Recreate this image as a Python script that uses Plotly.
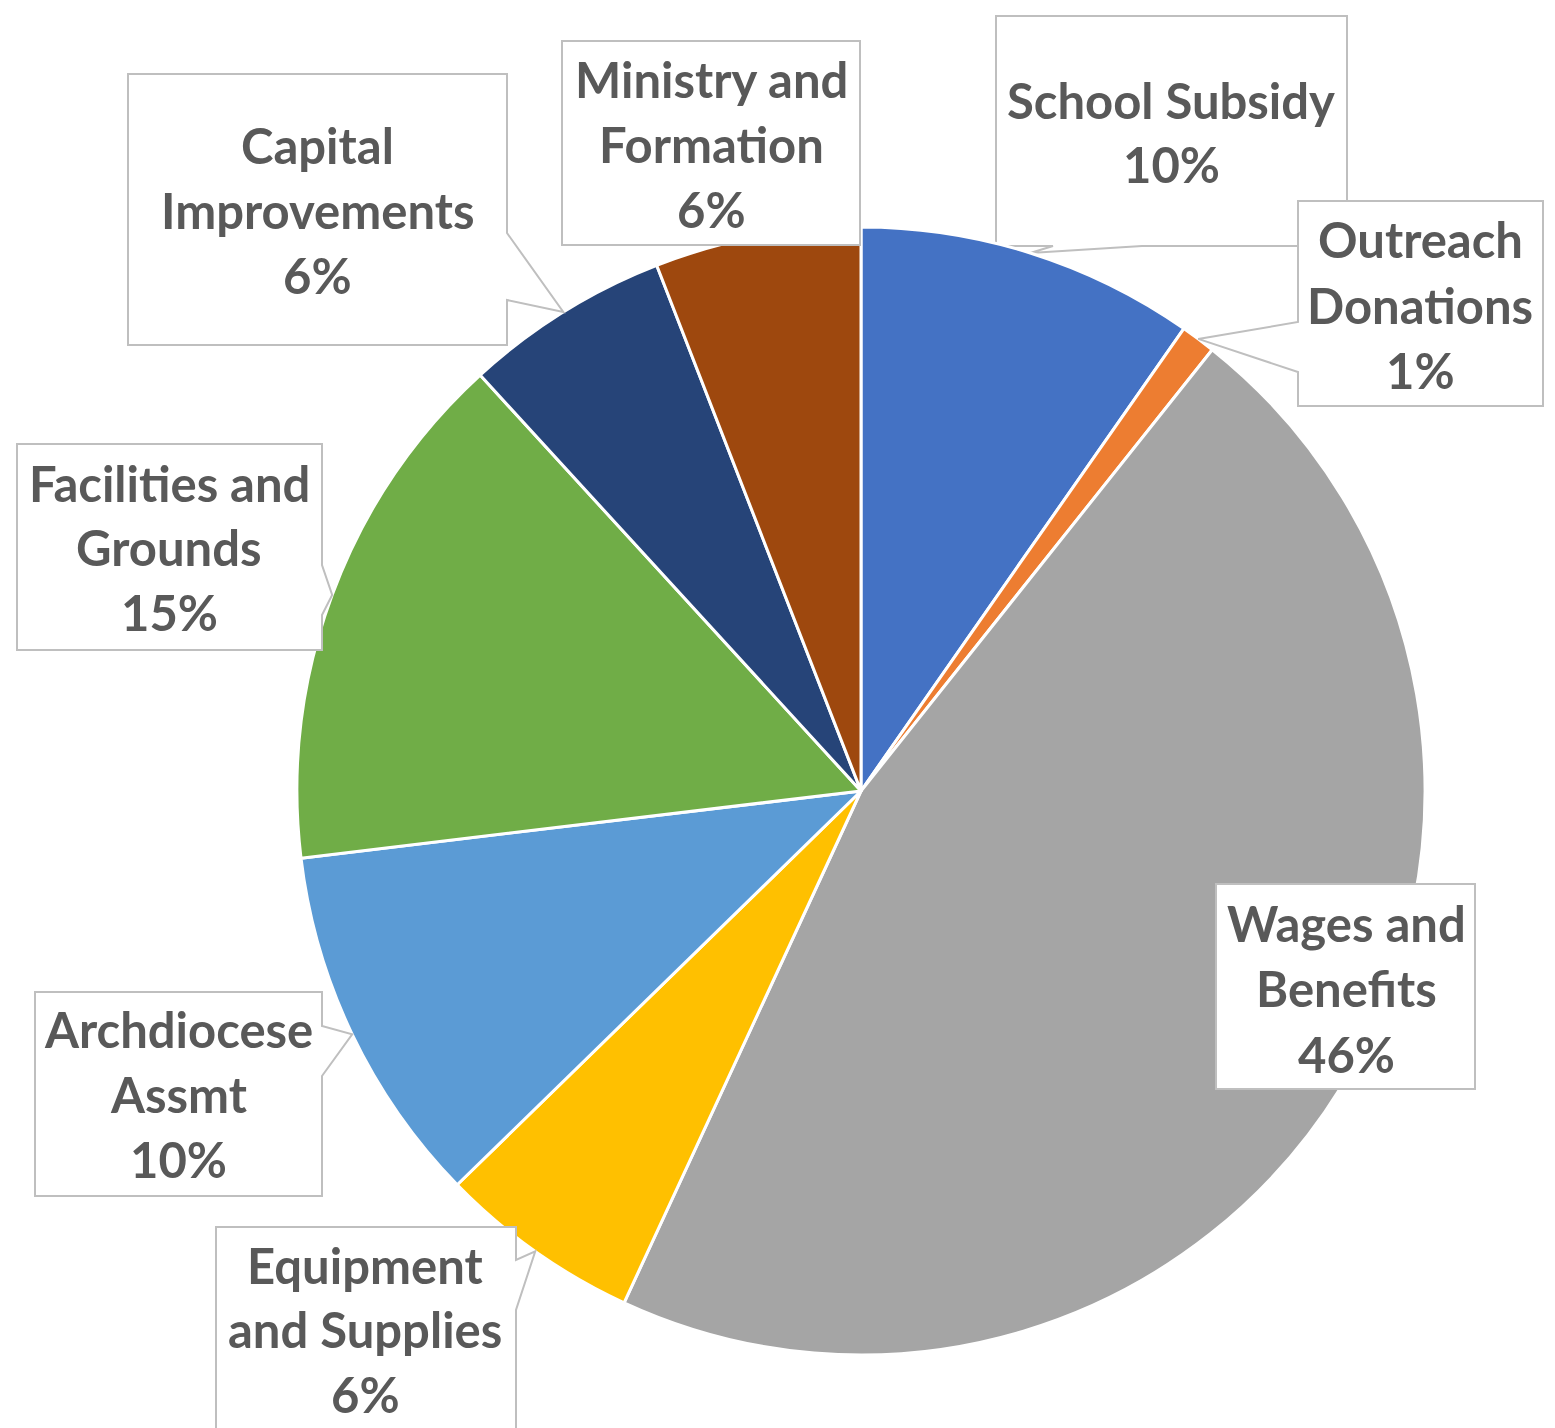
import math
import plotly.graph_objects as go

# browser body margin offset
OFF = 8
W, H = 1555 - OFF, 1428 - OFF

# ---- data ----
categories = [
    "School Subsidy",
    "Outreach\nDonations",
    "Wages and\nBenefits",
    "Equipment\nand Supplies",
    "Archdiocese\nAssmt",
    "Facilities and\nGrounds",
    "Capital\nImprovements",
    "Ministry and\nFormation",
]
values = [9.7, 1.0, 46.2, 5.8, 10.4, 15.1, 5.9, 5.9]
colors = ["#4472C4", "#ED7D31", "#A5A5A5", "#FFC000",
          "#5B9BD5", "#70AD47", "#264478", "#9E480E"]

# ---- layout constants (target pixels) ----
CX, CY, R = 861, 791, 564
# label boxes: (x0, y0, x1, y1), text centre x, line centre ys, wedge (side, b0, b1) or None, shape layer
boxes = [
    ((996, 16, 1347, 246), 1171, [100, 164], ("bottom", 1053, 1142), "below"),
    ((1298, 201, 1543, 406), 1420, [239, 305, 370], ("left", 322, 372), "above"),
    ((1216, 884, 1475, 1089), 1346, [923, 988, 1054], None, "above"),
    ((216, 1227, 516, 1445), 365, [1265, 1329, 1394], ("right", 1260, 1310), "above"),
    ((35, 992, 322, 1196), 178, [1029, 1094, 1159], ("right", 1026, 1076), "above"),
    ((17, 444, 322, 650), 169, [483, 547, 612], ("right", 565, 615), "above"),
    ((128, 74, 507, 345), 317, [145, 210, 275], ("right", 233, 300), "above"),
    ((562, 41, 860, 245), 711, [79, 144, 209], None, "above"),
]


def px(x):
    return (x - OFF) / W


def py(y):
    return 1 - (y - OFF) / H


fig = go.Figure(go.Pie(
    labels=[c.replace("\n", " ") for c in categories],
    values=values,
    sort=False,
    direction="clockwise",
    rotation=0,
    marker=dict(colors=colors, line=dict(color="white", width=3)),
    textinfo="none",
    hoverinfo="skip",
    showlegend=False,
    domain=dict(x=[px(CX - R), px(CX + R)], y=[py(CY + R), py(CY - R)]),
))

total = sum(values)
cum = 0.0
shapes = []
annotations = []
for cat, v, (box, tx, lys, wedge, layer) in zip(categories, values, boxes):
    mid = (cum + v / 2) / total * 2 * math.pi
    cum += v
    tipx = CX + R * math.sin(mid)
    tipy = CY - R * math.cos(mid)
    x0, y0, x1, y1 = box
    pts = [(x0, y0), (x1, y0)]
    if wedge and wedge[0] == "right":
        pts += [(x1, wedge[1]), (tipx, tipy), (x1, wedge[2])]
    pts += [(x1, y1)]
    if wedge and wedge[0] == "bottom":
        pts += [(wedge[2], y1), (tipx, tipy), (wedge[1], y1)]
    pts += [(x0, y1)]
    if wedge and wedge[0] == "left":
        pts += [(x0, wedge[2]), (tipx, tipy), (x0, wedge[1])]
    path = "M " + " L ".join(f"{px(a):.5f},{py(b):.5f}" for a, b in pts) + " Z"
    shapes.append(dict(type="path", xref="paper", yref="paper", path=path,
                       fillcolor="white", line=dict(color="#BFBFBF", width=2),
                       layer=layer))
    pct = f"{round(v / total * 100)}%"
    lines = cat.split("\n") + [pct]
    for t, ly in zip(lines, lys):
        annotations.append(dict(
            x=px(tx), y=py(ly), xref="paper", yref="paper", text=t,
            showarrow=False, xanchor="center", yanchor="middle",
            font=dict(family="Lato", size=49, color="#595959", weight="bold"),
        ))

fig.update_layout(
    width=W, height=H,
    margin=dict(l=0, r=0, t=0, b=0),
    paper_bgcolor="white", plot_bgcolor="white",
    shapes=shapes, annotations=annotations,
)

fig.write_html("out.html")
